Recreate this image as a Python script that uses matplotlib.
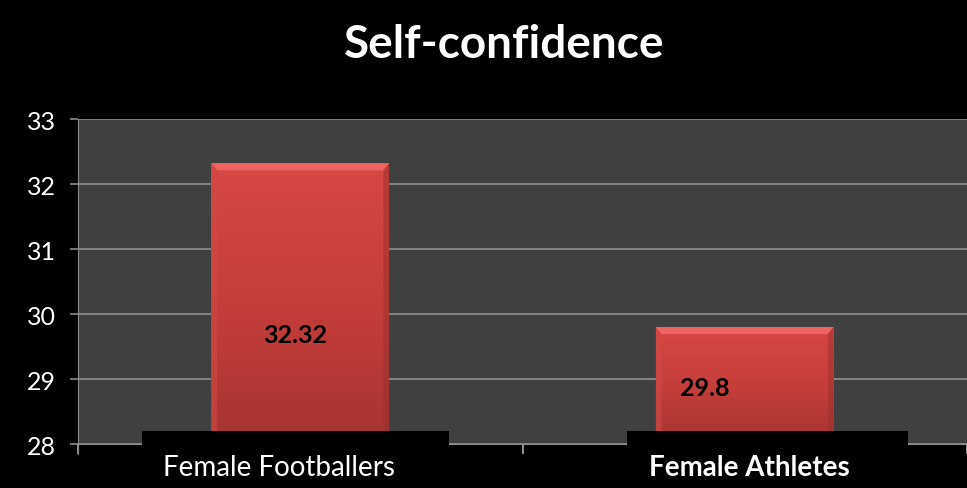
import numpy as np
import matplotlib.pyplot as plt
import matplotlib.transforms as mtransforms
from matplotlib.patches import Rectangle, Polygon
from matplotlib.colors import LinearSegmentedColormap

plt.rcParams['font.family'] = ['Lato', 'DejaVu Sans']

title = "Self-confidence"
categories = ["Female Footballers", "Female Athletes"]
values = [32.32, 29.8]
value_labels = ["32.32", "29.8"]
yticks = [28, 29, 30, 31, 32, 33]

# layout / style (not data)
bar_w = 0.40
label_dx = [-0.012, -0.089]
label_y = [29.69, 28.87]
cat_dx = [-0.048, 0.010]
cat_weight = ["normal", "bold"]
box_span = [(-0.356, 0.335), (-0.265, 0.367)]

fig = plt.figure(figsize=(9.67, 4.89), dpi=100, facecolor='black')
ax = fig.add_axes([78/967, 1-445/489, 1-78/967, (445-120)/489])
ax.set_facecolor('#404040')
ax.set_xlim(-0.5, 1.5)
ax.set_ylim(28, 33)

ax.set_yticks(yticks)
ax.set_yticklabels([str(t) for t in yticks], color='white', fontsize=18)
ax.tick_params(axis='y', length=6, width=1.2, color='#8a8a8a', pad=10)
ax.set_xticks([-0.5, 0.5, 1.5])
ax.set_xticklabels([])
ax.tick_params(axis='x', length=7, width=1.5, color='#8a8a8a', direction='out')
ax.grid(axis='y', color='#8a8a8a', lw=1.3)
ax.set_axisbelow(True)
for s in ['top', 'right']:
    ax.spines[s].set_visible(False)
ax.spines['left'].set_color('#8a8a8a')
ax.spines['bottom'].set_color('#8a8a8a')
ax.spines['left'].set_bounds(27.85, 33)

cmap = LinearSegmentedColormap.from_list('bar', ['#a43431', '#c63e3a', '#d84743'])
grad = np.linspace(0, 1, 256).reshape(-1, 1)
bars = ax.bar(range(len(values)), [v - 28 for v in values], bottom=28,
              width=bar_w, color='none', zorder=3)
for i, (b, v) in enumerate(zip(bars, values)):
    x0 = b.get_x()
    x1 = x0 + bar_w
    im = ax.imshow(grad, cmap=cmap, aspect='auto', origin='lower',
                   extent=[x0, x1, 28, v], zorder=3)
    im.set_clip_path(b)
    dy = 0.11
    dx = 0.013
    ax.add_patch(Polygon([[x0, v], [x1, v], [x1 - dx, v - dy], [x0 + dx, v - dy]],
                         closed=True, facecolor='#ee6460', edgecolor='none', zorder=4))
    ax.add_patch(Polygon([[x0, v], [x0 + dx, v - dy], [x0 + dx, 28], [x0, 28]],
                         closed=True, facecolor='#d04a45', edgecolor='none',
                         alpha=0.6, zorder=4))
    ax.add_patch(Polygon([[x1, v], [x1 - dx, v - dy], [x1 - dx, 28], [x1, 28]],
                         closed=True, facecolor='#98302d', edgecolor='none',
                         alpha=0.5, zorder=4))
    ax.text(i + label_dx[i], label_y[i], value_labels[i], color='black',
            fontsize=18, fontweight='bold', ha='center', va='center', zorder=6)

# black boxes behind category labels
trans = mtransforms.blended_transform_factory(ax.transData, fig.transFigure)
for i, cat in enumerate(categories):
    a, c = box_span[i]
    ax.add_patch(Rectangle((i + a, 0), c - a, 1 - 432/489, transform=trans,
                           facecolor='black', edgecolor='none', clip_on=False, zorder=5))
    ax.text(i + cat_dx[i], 1 - 468/489, cat, transform=trans, color='white',
            fontsize=20, fontweight=cat_weight[i], ha='center', va='center', zorder=6)

fig.text(504/967, 1 - 45/489, title, color='white', fontsize=33,
         fontweight='bold', ha='center', va='center')

fig.savefig('out.png', dpi=100, facecolor='black')
